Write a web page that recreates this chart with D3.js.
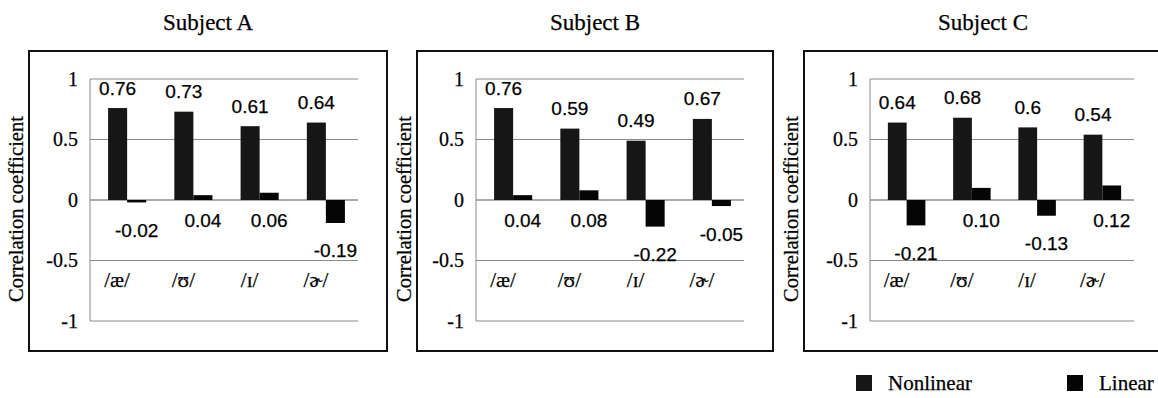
<!DOCTYPE html>
<html>
<head>
<meta charset="utf-8">
<script src="https://cdn.jsdelivr.net/npm/d3@7"></script>
<style>
  html, body { margin: 0; padding: 0; background: #fff; }
  svg { display: block; }
  text { fill: #000; stroke: #000; stroke-width: 0.25px; }
</style>
</head>
<body>
<svg id="chart" width="1158" height="398"></svg>
<script>
// ---- data ----
const subjects = ["Subject A", "Subject B", "Subject C"];
const categories = ["/æ/", "/ʊ/", "/ɪ/", "/ɚ/"];
const seriesNames = ["Nonlinear", "Linear"];
const nonlinearA = [0.76, 0.73, 0.61, 0.64];
const linearA = [-0.02, 0.04, 0.06, -0.19];
const nonlinearB = [0.76, 0.59, 0.49, 0.67];
const linearB = [0.04, 0.08, -0.22, -0.05];
const nonlinearC = [0.64, 0.68, 0.6, 0.54];
const linearC = [-0.21, 0.10, -0.13, 0.12];
const yTicks = [1, 0.5, 0, -0.5, -1];
const yTitle = "Correlation coefficient";

const nonlinear = [nonlinearA, nonlinearB, nonlinearC];
const linear = [linearA, linearB, linearC];

// ---- layout ----
const panels = [
  { box: [29, 358], axisX: 90, rightX: 358 },
  { box: [417, 356], axisX: 476, rightX: 744 },
  { box: [804, 358], axisX: 870, rightX: 1134 }
];
const boxTop = 51, boxBottom = 351;
const yTop = 79, yBottom = 321;
const colors = { Nonlinear: "#161616", Linear: "#050505" };
const serif = "'Liberation Serif', 'Times New Roman', 'DejaVu Serif', serif";
const sans = "'Liberation Sans', Arial, sans-serif";

const loc = d3.formatLocale({ decimal: ".", thousands: ",", grouping: [3], currency: ["", ""], minus: "-" });
const fmtTick = loc.format("~g");
const fmtNL = loc.format("~g");
const fmtL = loc.format(".2f");

const svg = d3.select("#chart");

panels.forEach((p, i) => {
  const g = svg.append("g");
  const y = d3.scaleLinear().domain([-1, 1]).range([yBottom, yTop]);
  const x0 = d3.scaleBand().domain(categories).range([p.axisX + 4, p.rightX + 1]).padding(0);
  const x1 = d3.scaleBand().domain(seriesNames).range([0, x0.bandwidth()]).paddingInner(0).paddingOuter(0.74);

  // panel box
  g.append("rect")
    .attr("x", p.box[0]).attr("y", boxTop)
    .attr("width", p.box[1]).attr("height", boxBottom - boxTop)
    .attr("fill", "none").attr("stroke", "#111").attr("stroke-width", 2);

  // title
  g.append("text")
    .attr("x", p.box[0] + p.box[1] / 2).attr("y", 30)
    .attr("text-anchor", "middle")
    .style("font-family", serif).style("font-size", "23px")
    .text(subjects[i]);

  // gridlines
  g.append("g").selectAll("line").data(yTicks).join("line")
    .attr("x1", p.axisX).attr("x2", p.rightX)
    .attr("y1", d => y(d)).attr("y2", d => y(d))
    .attr("stroke", d => d === 0 ? "#555" : "#8a8a8a").attr("stroke-width", 1);

  // vertical axis line
  g.append("line")
    .attr("x1", p.axisX).attr("x2", p.axisX)
    .attr("y1", y(1)).attr("y2", y(-1))
    .attr("stroke", "#8a8a8a").attr("stroke-width", 1);

  // y axis labels
  const ax = d3.axisLeft(y).tickValues(yTicks).tickFormat(fmtTick).tickSize(0).tickPadding(12);
  const axG = g.append("g").attr("transform", `translate(${p.axisX},0)`).call(ax);
  axG.select(".domain").remove();
  axG.selectAll("text").style("font-family", serif).style("font-size", "20px");

  // y title
  g.append("text")
    .attr("transform", `translate(${p.box[0] - 13},${(yTop + yBottom) / 2 + 9}) rotate(-90)`)
    .attr("text-anchor", "middle").attr("dominant-baseline", "central")
    .style("font-family", serif).style("font-size", "20.5px")
    .text(yTitle);

  const rows = categories.map((c, k) => ({ cat: c, Nonlinear: nonlinear[i][k], Linear: linear[i][k] }));

  // bars
  const groups = g.append("g").selectAll("g").data(rows).join("g")
    .attr("transform", d => `translate(${x0(d.cat)},0)`);
  groups.selectAll("rect").data(d => seriesNames.map(s => ({ s, v: d[s] }))).join("rect")
    .attr("x", d => x1(d.s))
    .attr("width", x1.bandwidth())
    .attr("y", d => y(Math.max(0, d.v)))
    .attr("height", d => Math.abs(y(d.v) - y(0)))
    .attr("fill", d => colors[d.s]);

  // value labels
  groups.append("text")
    .attr("x", x1("Nonlinear") + x1.bandwidth() / 2)
    .attr("y", d => y(d.Nonlinear) - 20)
    .attr("text-anchor", "middle").attr("dominant-baseline", "central")
    .style("font-family", sans).style("font-size", "19px")
    .text(d => fmtNL(d.Nonlinear));
  groups.append("text")
    .attr("x", x1("Linear") + x1.bandwidth() / 2)
    .attr("y", d => d.Linear < 0 ? y(d.Linear) + 28 : y(0) + 20)
    .attr("text-anchor", "middle").attr("dominant-baseline", "central")
    .style("font-family", sans).style("font-size", "19px")
    .text(d => fmtL(d.Linear));

  // category labels
  groups.append("text")
    .attr("x", x0.bandwidth() / 2 - 10)
    .attr("y", y(-0.66))
    .attr("text-anchor", "middle").attr("dominant-baseline", "central")
    .style("font-family", serif).style("font-size", "21px")
    .text(d => d.cat);
});

// legend
const legend = svg.append("g");
const legendX = [856, 1067];
seriesNames.forEach((s, k) => {
  legend.append("rect")
    .attr("x", legendX[k]).attr("y", 375)
    .attr("width", 16).attr("height", 16)
    .attr("fill", colors[s]);
  legend.append("text")
    .attr("x", legendX[k] + 32).attr("y", 383)
    .attr("dominant-baseline", "central")
    .style("font-family", serif).style("font-size", "21px")
    .text(s);
});
</script>
</body>
</html>
